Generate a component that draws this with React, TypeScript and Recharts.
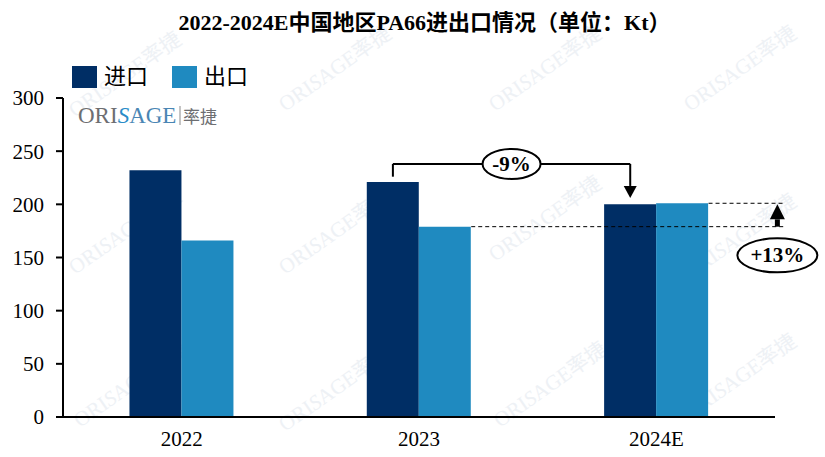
import { BarChart, Bar, XAxis, YAxis, ReferenceLine, ReferenceDot } from 'recharts';

const years = ['2022', '2023', '2024E'];
const imports = [232, 221, 200];
const exportsKt = [166, 179, 201];
const yTicks = [0, 50, 100, 150, 200, 250, 300];
const seriesNames = ['进口', '出口'];
const title = '2022-2024E中国地区PA66进出口情况（单位：Kt）';
const importChange = '-9%';
const exportChange = '+13%';

const data = years.map((year, i) => ({ year, pos: i + 0.5, imp: imports[i], exp: exportsKt[i] }));

const NAVY = '#002E65';
const BLUE = '#1F8AC0';
const SERIF = "'Liberation Serif', 'Times New Roman', 'Noto Sans CJK SC', serif";

// bars take 44% of each category band (28% gap on both sides), 22% each
const GAP = 0.28;
const HALF_BAR = (1 - 2 * GAP) / 4;
const impCenter = (i: number) => i + 0.5 - HALF_BAR;
const expRight = (i: number) => i + 0.5 + 2 * HALF_BAR;

const watermarks = [
  [75, 118], [285, 112], [495, 112], [690, 112],
  [75, 275], [285, 275], [495, 262], [690, 280],
  [80, 428], [285, 432], [500, 428], [690, 420],
];

const arrowShape = (head: number, width: number, sw: number) => (p: any) => {
  const { x1, y1, x2, y2 } = p;
  const dir = y2 > y1 ? 1 : -1;
  const base = y2 - dir * head;
  return (
    <g>
      <line x1={x1} y1={y1} x2={x2} y2={base} stroke="#000" strokeWidth={sw} />
      <polygon points={`${x2 - width / 2},${base} ${x2 + width / 2},${base} ${x2},${y2}`} fill="#000" />
    </g>
  );
};

const bubble = (label: string, rx: number, ry: number) => (p: any) => (
  <g>
    <ellipse cx={p.cx} cy={p.cy} rx={rx} ry={ry} fill="#fff" stroke="#000" strokeWidth={2} />
    <text x={p.cx} y={p.cy} textAnchor="middle" dominantBaseline="central" fontFamily={SERIF} fontWeight="bold" fontSize={21} fill="#000">
      {label}
    </text>
  </g>
);

export default function App() {
  return (
    <div style={{ position: 'absolute', left: 0, top: 0, width: 825, height: 457, background: '#fff', fontFamily: SERIF }}>
      <svg width={825} height={457} style={{ position: 'absolute', left: 0, top: 0 }}>
        {watermarks.map(([x, y], i) => (
          <text key={i} x={x} y={y} transform={`rotate(-35 ${x} ${y})`} fontFamily={SERIF} fontSize={21} fill="#e3e9f0" opacity={0.6}>
            ORI<tspan fontStyle="italic">S</tspan>AGE率捷
          </text>
        ))}
      </svg>
      <div style={{ position: 'absolute', top: 10, left: 12, width: 825, textAlign: 'center', fontSize: 22, lineHeight: '26px', fontWeight: 'bold', color: '#000' }}>
        {title}
      </div>
      <BarChart width={825} height={457} data={data} margin={{ top: 98, right: 50, bottom: 10, left: 0 }} barCategoryGap={`${GAP * 100}%`} barGap={0}>
        <XAxis dataKey="year" height={30} tickLine={false} tickSize={0} tickMargin={14} axisLine={{ stroke: '#000', strokeWidth: 2 }}
          tick={{ fontFamily: SERIF, fontSize: 21, fill: '#000' }} />
        <XAxis xAxisId="n" dataKey="pos" type="number" domain={[0, years.length]} allowDataOverflow hide />
        <YAxis width={63} domain={[0, 300]} ticks={yTicks} interval={0} tickSize={7} tickMargin={12}
          axisLine={{ stroke: '#000', strokeWidth: 2 }} tickLine={{ stroke: '#000', strokeWidth: 2 }}
          tick={{ fontFamily: SERIF, fontSize: 21, fill: '#000' }} />
        <Bar dataKey="imp" name={seriesNames[0]} fill={NAVY} isAnimationActive={false} />
        <Bar dataKey="exp" name={seriesNames[1]} fill={BLUE} isAnimationActive={false} />

        {/* -9% bracket between import bars */}
        <ReferenceLine xAxisId="n" ifOverflow="visible" stroke="#000" strokeWidth={2}
          segment={[{ x: impCenter(1), y: imports[1] + 5 }, { x: impCenter(1), y: 238 }]} />
        <ReferenceLine xAxisId="n" ifOverflow="visible" stroke="#000" strokeWidth={2}
          segment={[{ x: impCenter(1), y: 238 }, { x: impCenter(2), y: 238 }]} />
        <ReferenceLine xAxisId="n" ifOverflow="visible" shape={arrowShape(12, 13, 2)}
          segment={[{ x: impCenter(2), y: 238 }, { x: impCenter(2), y: imports[2] + 6 }]} />
        <ReferenceDot xAxisId="n" ifOverflow="visible" x={(impCenter(1) + impCenter(2)) / 2} y={238} shape={bubble(importChange, 29, 15)} />

        {/* +13% export comparison */}
        <ReferenceLine xAxisId="n" ifOverflow="visible" stroke="#000" strokeWidth={1} strokeDasharray="4 3"
          segment={[{ x: expRight(1), y: exportsKt[1] }, { x: 3.04, y: exportsKt[1] }]} />
        <ReferenceLine xAxisId="n" ifOverflow="visible" stroke="#000" strokeWidth={1} strokeDasharray="4 3"
          segment={[{ x: expRight(2), y: exportsKt[2] }, { x: 3.04, y: exportsKt[2] }]} />
        <ReferenceLine xAxisId="n" ifOverflow="visible" shape={arrowShape(15, 15, 5)}
          segment={[{ x: 3.01, y: exportsKt[1] }, { x: 3.01, y: exportsKt[2] - 1 }]} />
        <ReferenceDot xAxisId="n" ifOverflow="visible" x={3.01} y={152} shape={bubble(exportChange, 40, 17)} />
      </BarChart>

      {/* logo */}
      <svg width={200} height={40} style={{ position: 'absolute', left: 76, top: 96 }}>
        <text x={2} y={27} fontFamily={SERIF} fontSize={23}>
          <tspan fill="#6d6e71">ORI</tspan>
          <tspan fill="#2a8cc8" fontStyle="italic">S</tspan>
          <tspan fill="#4a86b4">AGE</tspan>
        </text>
        <line x1={104} y1={10} x2={104} y2={29} stroke="#8a8a8a" strokeWidth={1} />
        <text x={107} y={27} fontFamily="'Noto Sans CJK SC', sans-serif" fontSize={17} fill="#6d6e71">率捷</text>
      </svg>

      {/* legend */}
      {seriesNames.map((name, i) => (
        <div key={name} style={{ position: 'absolute', left: 72 + i * 100, top: 66, display: 'flex', alignItems: 'center' }}>
          <div style={{ width: 25, height: 22, background: i === 0 ? NAVY : BLUE }} />
          <span style={{ marginLeft: 7, fontSize: 22, lineHeight: '22px', color: '#000' }}>{name}</span>
        </div>
      ))}
    </div>
  );
}
